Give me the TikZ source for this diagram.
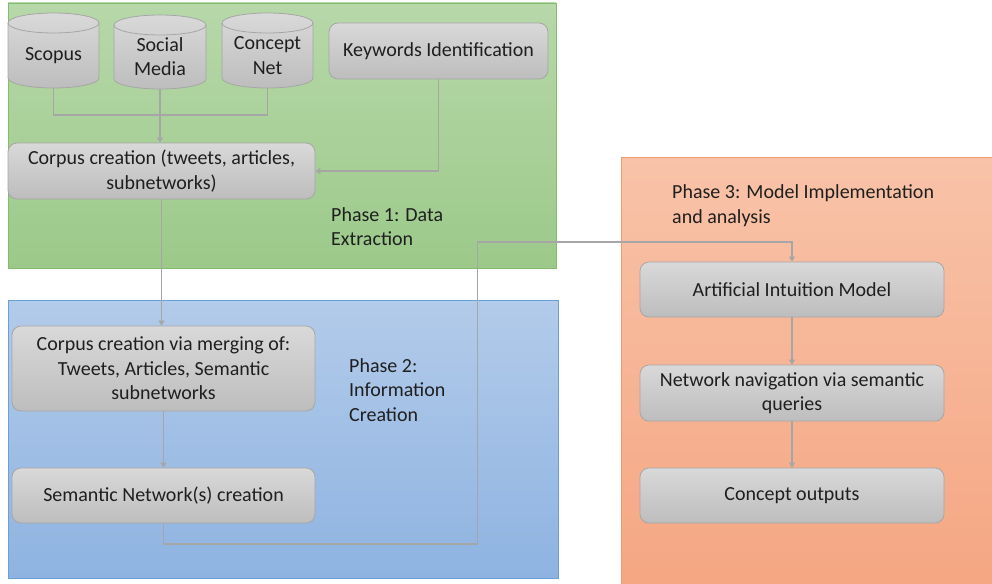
\documentclass[tikz,border=0pt]{standalone}
\usepackage{fontspec}
\setmainfont{Carlito}
\usetikzlibrary{arrows.meta}
\definecolor{gtop}{HTML}{B7D8A9}
\definecolor{gbot}{HTML}{9CC98A}
\definecolor{gbrd}{HTML}{82BC6C}
\definecolor{btop}{HTML}{B3CBEA}
\definecolor{bbot}{HTML}{8EB3E1}
\definecolor{bbrd}{HTML}{6C9FD8}
\definecolor{otop}{HTML}{F8C3A9}
\definecolor{obot}{HTML}{F5A682}
\definecolor{obrd}{HTML}{F29A6C}
\definecolor{ntop}{HTML}{D9D9D9}
\definecolor{nbot}{HTML}{BDBDBD}
\definecolor{nbrd}{HTML}{A6A6A6}
\definecolor{lin}{HTML}{A6A6A6}
\definecolor{txt}{HTML}{1F1F1F}
\tikzset{
  stepbox/.style={draw=nbrd, line width=0.8pt, rounded corners=9pt, top color=ntop, bottom color=nbot,
    align=center, inner sep=0pt, text=txt},
  cyltext/.style={align=center, inner sep=0pt, text=txt, minimum width=91pt, minimum height=65pt},
  cylfill/.style={draw=nbrd, line width=0.8pt, top color=ntop, bottom color=nbot},
  conn/.style={draw=lin, line width=1.4pt},
  arr/.style={conn, -{Triangle[width=6pt,length=5pt]}},
  phase/.style={align=left, anchor=west, inner sep=0pt, text=txt},
}
\begin{document}
\begin{tikzpicture}[x=1pt,y=-1pt,font=\fontsize{20}{24.5}\selectfont]
\useasboundingbox (0,0) rectangle (992,583);
% phase panels
\path[draw=gbrd, line width=0.8pt, top color=gtop, bottom color=gbot] (8,3) rectangle (556,268);
\path[draw=bbrd, line width=0.8pt, top color=btop, bottom color=bbot] (8,300) rectangle (558,578);
\path[draw=obrd, line width=0.8pt, top color=otop, bottom color=obot] (621,157) rectangle (998,590);
% cylinders
\path[cylfill] (8,23) -- (8,78) arc[start angle=180,end angle=0,x radius=45.5,y radius=10] -- (99,23) arc[start angle=0,end angle=-180,x radius=45.5,y radius=10] -- cycle;
\draw[draw=nbrd, line width=0.8pt] (8,23) arc[start angle=180,end angle=0,x radius=45.5,y radius=10];
\path[cylfill] (114,25) -- (114,79) arc[start angle=180,end angle=0,x radius=46,y radius=10] -- (206,25) arc[start angle=0,end angle=-180,x radius=46,y radius=10] -- cycle;
\draw[draw=nbrd, line width=0.8pt] (114,25) arc[start angle=180,end angle=0,x radius=46,y radius=10];
\path[cylfill] (222,23) -- (222,78) arc[start angle=180,end angle=0,x radius=45.5,y radius=10] -- (313,23) arc[start angle=0,end angle=-180,x radius=45.5,y radius=10] -- cycle;
\draw[draw=nbrd, line width=0.8pt] (222,23) arc[start angle=180,end angle=0,x radius=45.5,y radius=10];
\node[cyltext] (scopus) at (53.5,55.5) {Scopus};
\node[cyltext] (social) at (160,56.5) {Social\\Media};
\node[cyltext] (concept) at (267.5,55.5) {Concept\\Net};
% boxes
\node[stepbox, minimum width=219pt, minimum height=56pt] (kw) at (438.5,51) {Keywords Identification};
\node[stepbox, minimum width=307pt, minimum height=56pt] (corpus1) at (161.5,171) {Corpus creation (tweets, articles,\\subnetworks)};
\node[stepbox, minimum width=303pt, minimum height=85pt] (corpus2) at (163.5,368.5) {Corpus creation via merging of:\\Tweets, Articles, Semantic\\subnetworks};
\node[stepbox, minimum width=303pt, minimum height=55pt] (sem) at (163.5,495.5) {Semantic Network(s) creation};
\node[stepbox, minimum width=304pt, minimum height=55pt] (aim) at (792,289.5) {Artificial Intuition Model};
\node[stepbox, minimum width=304pt, minimum height=56pt] (nav) at (792,393) {Network navigation via semantic\\queries};
\node[stepbox, minimum width=304pt, minimum height=55pt] (co) at (792,495.5) {Concept outputs};
% phase labels
\node[phase] (p1) at (331,226.5) {Phase 1: Data\\Extraction};
\node[phase] (p2) at (349,390) {Phase 2:\\Information\\Creation};
\node[phase] (p3) at (672,205.5) {Phase 3: Model Implementation\\and analysis};
% connectors
\coordinate (m) at (161,115);
\coordinate (c1) at (477.5,544);
\coordinate (c2) at (477.5,242);
\draw[conn] (scopus.south) |- (m);
\draw[conn] (concept.south) |- (m);
\draw[arr] (social.south) -- (social.south |- corpus1.north);
\draw[arr] (kw.south) |- (corpus1.east);
\draw[arr] (corpus1.south) -- (corpus1.south |- corpus2.north);
\draw[arr] (corpus2.south) -- (sem.north);
\draw[arr] (sem.south) |- (c1) -- (c2) -| (aim.north);
\draw[arr] (aim.south) -- (nav.north);
\draw[arr] (nav.south) -- (co.north);
\end{tikzpicture}
\end{document}
